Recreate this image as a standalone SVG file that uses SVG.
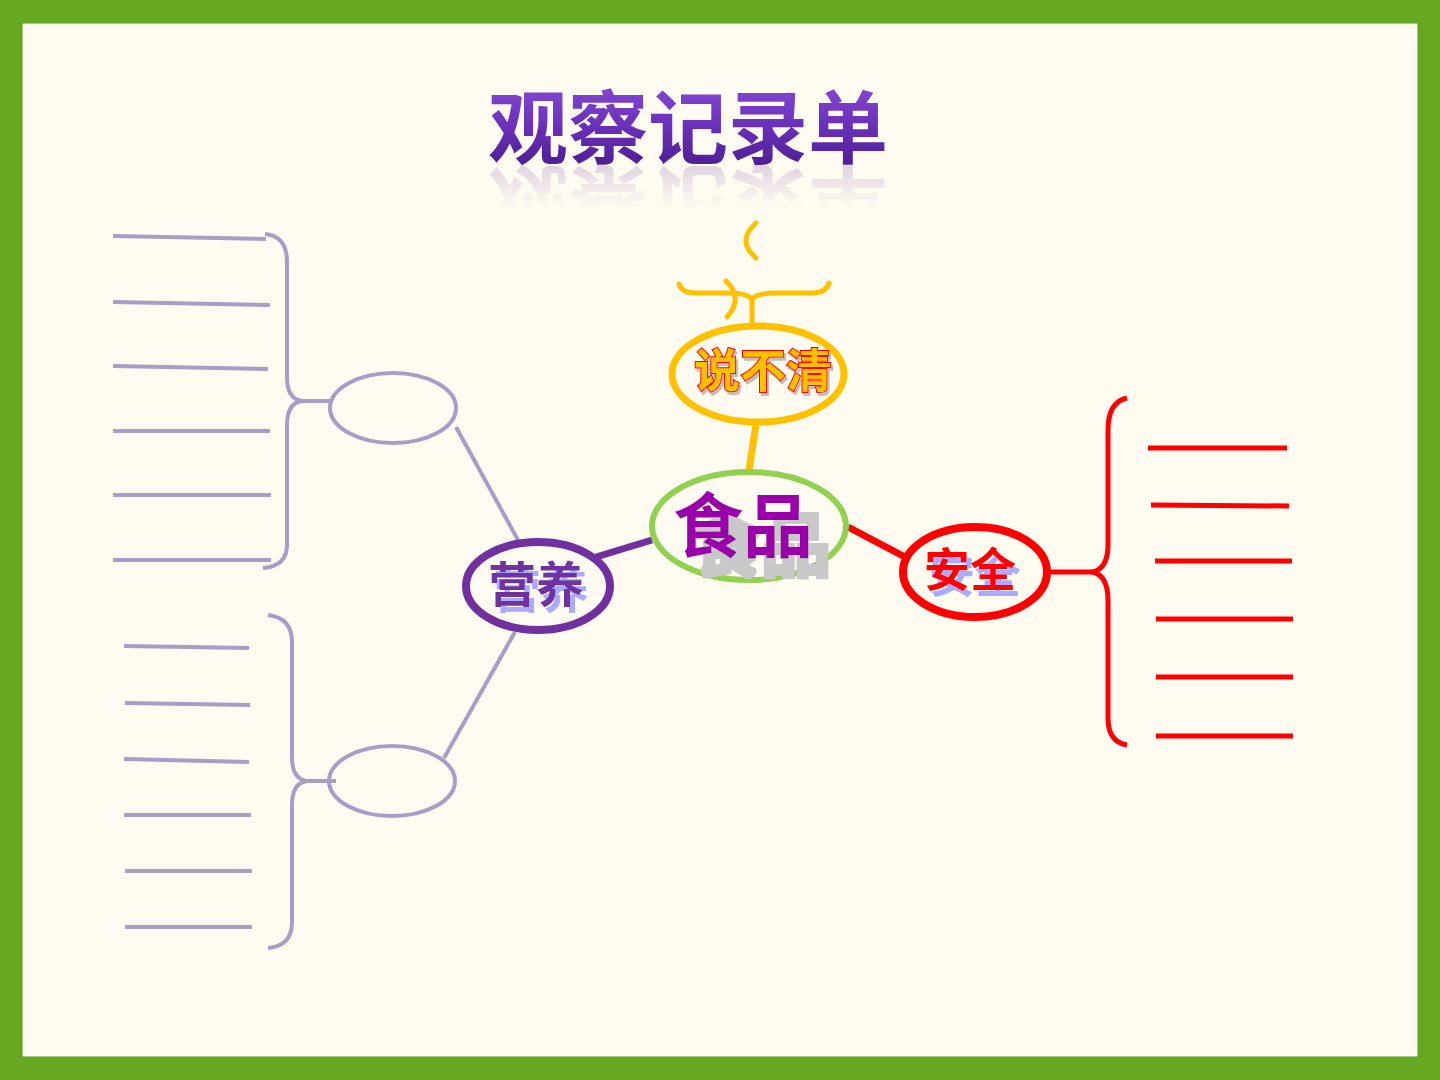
<svg xmlns="http://www.w3.org/2000/svg" xmlns:xlink="http://www.w3.org/1999/xlink" width="1440" height="1080" viewBox="0 0 1440 1080">
<defs>
<linearGradient id="tg" x1="0" y1="0" x2="0" y2="1">
<stop offset="0" stop-color="#8e55de"/>
<stop offset="0.55" stop-color="#6a2fb8"/>
<stop offset="1" stop-color="#431a86"/>
</linearGradient>
<linearGradient id="fade" x1="0" y1="165" x2="0" y2="208" gradientUnits="userSpaceOnUse">
<stop offset="0" stop-color="#fff" stop-opacity="0.18"/>
<stop offset="1" stop-color="#fff" stop-opacity="0"/>
</linearGradient>
<mask id="rm" maskUnits="userSpaceOnUse" x="0" y="0" width="1440" height="1080">
<rect x="0" y="160" width="1440" height="60" fill="url(#fade)"/>
</mask>
<filter id="shLav" x="-20%" y="-20%" width="140%" height="150%">
<feFlood flood-color="#aaaaff"/>
<feComposite in2="SourceAlpha" operator="in"/>
<feOffset dx="5" dy="6" result="s"/>
<feMerge><feMergeNode in="s"/><feMergeNode in="SourceGraphic"/></feMerge>
</filter>
<filter id="shGray" x="-20%" y="-20%" width="150%" height="160%">
<feFlood flood-color="#c8c8c8"/>
<feComposite in2="SourceAlpha" operator="in"/>
<feMorphology operator="dilate" radius="1.5"/>
<feOffset dx="18" dy="19" result="s"/>
<feMerge><feMergeNode in="s"/><feMergeNode in="SourceGraphic"/></feMerge>
</filter>
<filter id="shSmall" x="-20%" y="-20%" width="140%" height="150%">
<feFlood flood-color="#b0b0b0" flood-opacity="0.8"/>
<feComposite in2="SourceAlpha" operator="in"/>
<feOffset dx="2" dy="3" result="s"/>
<feMerge><feMergeNode in="s"/><feMergeNode in="SourceGraphic"/></feMerge>
</filter>
<style>
.cjk{font-family:"Noto Sans CJK SC","Noto Sans CJK JP",sans-serif;font-weight:bold;text-anchor:middle}
.lav{stroke:#a99cc6;stroke-width:4;fill:none;stroke-linecap:butt}
.red{stroke:#ff0000;stroke-width:5;fill:none}
.yel{stroke:#ffc000;stroke-width:5;fill:none;stroke-linecap:round}
</style>
</defs>
<rect x="0" y="0" width="1440" height="1080" fill="#67a823"/>
<rect x="22" y="23" width="1396" height="1034" fill="#fffbf0" stroke="#5c9a1e" stroke-width="1"/>

<g id="title">
<text id="titleText" class="cjk" x="688" y="157" font-size="80" fill="url(#tg)">观察记录单</text>
<g mask="url(#rm)"><use xlink:href="#titleText" href="#titleText" transform="translate(0,330) scale(1,-1)"/></g>
</g>

<g id="connectors">
<line x1="749" y1="471" x2="756" y2="424" stroke="#ffc000" stroke-width="7"/>
<line x1="596" y1="557" x2="652" y2="540" stroke="#7030a0" stroke-width="7"/>
<line x1="848" y1="527" x2="905" y2="557" stroke="#ff0000" stroke-width="7"/>
<line x1="518" y1="540" x2="456" y2="427" class="lav"/>
<line x1="515" y1="632" x2="444" y2="758" class="lav"/>
</g>

<g id="node-shuobuqing">
<line x1="752" y1="300" x2="752" y2="324" class="yel" stroke-linecap="butt"/>
<path class="yel" d="M679,284 Q682,293 695,293 L728,293 Q749,293 752,300 Q755,293 776,293 L812,293 Q826,293 829,283"/>
<path class="yel" d="M726,281 Q744,298 727,317"/>
<path class="yel" d="M756,223 Q736,241 756,258"/>
<ellipse cx="758" cy="374" rx="86" ry="48" fill="none" stroke="#ffc000" stroke-width="7"/>
<text class="cjk" x="763" y="387" font-size="46" fill="#ffc000" stroke="#ff0000" stroke-width="2" paint-order="stroke" filter="url(#shSmall)">说不清</text>
</g>

<g id="node-shipin">
<ellipse cx="749" cy="526" rx="97" ry="54" fill="none" stroke="#92d050" stroke-width="6"/>
<text class="cjk" x="743" y="552" font-size="70" fill="#9900aa" filter="url(#shGray)">食品</text>
</g>

<g id="node-yingyang">
<ellipse cx="538" cy="586" rx="72" ry="44" fill="none" stroke="#7030a0" stroke-width="8"/>
<text class="cjk" x="536" y="602" font-size="48" fill="#7030a0" filter="url(#shLav)">营养</text>
</g>

<g id="node-anquan">
<ellipse cx="975" cy="572" rx="72" ry="45" fill="none" stroke="#ff0000" stroke-width="8"/>
<text class="cjk" x="970" y="586" font-size="46" fill="#ff0000" filter="url(#shLav)">安全</text>
</g>

<g id="node-upper-oval">
<ellipse cx="393" cy="408" rx="63" ry="35" class="lav"/>
<line x1="300" y1="401" x2="331" y2="401" class="lav"/>
<path class="lav" d="M265,234 Q287,236 287,262 L287,377 Q287,399 302,401 Q287,403 287,425 L287,545 Q287,566 263,568"/>
<line x1="113" y1="236" x2="266" y2="239" class="lav"/>
<line x1="113" y1="302" x2="270" y2="305" class="lav"/>
<line x1="113" y1="366" x2="268" y2="369" class="lav"/>
<line x1="113" y1="431" x2="270" y2="431" class="lav"/>
<line x1="113" y1="495" x2="271" y2="495" class="lav"/>
<line x1="113" y1="560" x2="271" y2="560" class="lav"/>
</g>

<g id="node-lower-oval">
<ellipse cx="392" cy="781" rx="63" ry="35" class="lav"/>
<line x1="305" y1="781" x2="336" y2="781" class="lav"/>
<path class="lav" d="M268,615 Q292,618 292,642 L292,757 Q292,779 307,781 Q292,783 292,805 L292,922 Q292,946 268,948"/>
<line x1="124" y1="646" x2="249" y2="648" class="lav"/>
<line x1="125" y1="703" x2="250" y2="705" class="lav"/>
<line x1="124" y1="759" x2="249" y2="762" class="lav"/>
<line x1="124" y1="815" x2="251" y2="815" class="lav"/>
<line x1="125" y1="871" x2="252" y2="871" class="lav"/>
<line x1="125" y1="927" x2="252" y2="927" class="lav"/>
</g>

<g id="node-anquan-list">
<line x1="1047" y1="572" x2="1094" y2="572" class="red"/>
<path class="red" d="M1127,398 Q1108,402 1108,430 L1108,545 Q1108,568 1093,572 Q1108,576 1108,600 L1108,718 Q1108,742 1127,745"/>
<line x1="1148" y1="448" x2="1287" y2="448" class="red"/>
<line x1="1151" y1="505" x2="1289" y2="506" class="red"/>
<line x1="1155" y1="561" x2="1292" y2="561" class="red"/>
<line x1="1156" y1="619" x2="1293" y2="619" class="red"/>
<line x1="1156" y1="677" x2="1293" y2="677" class="red"/>
<line x1="1156" y1="736" x2="1293" y2="736" class="red"/>
</g>
</svg>
